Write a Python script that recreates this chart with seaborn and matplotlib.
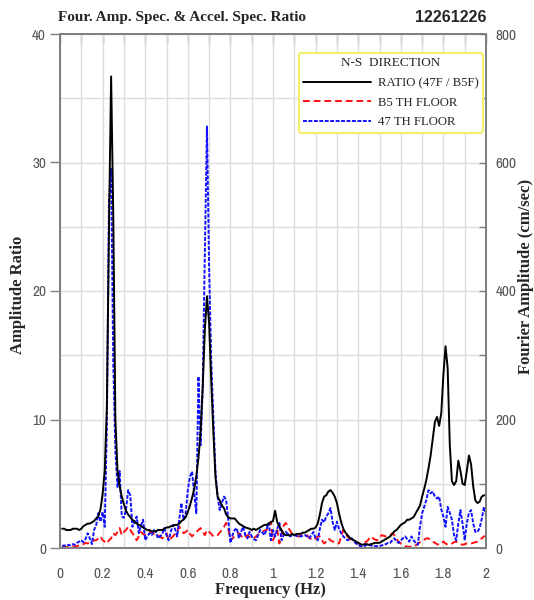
"""
Fourier amplitude spectra (B5F / 47F) and spectral ratio, N-S direction
"""

import numpy as np
import pandas as pd
import matplotlib
matplotlib.use('Agg')
import matplotlib.pyplot as plt
from matplotlib import font_manager
from matplotlib.ticker import MultipleLocator
import seaborn as sns

# frequency grid of the spectra (Hz)
freq = np.round(np.linspace(0.01, 2.00, 200), 2)

# spectral ratio 47F / B5F (left axis)
ratio_47f_b5f = [
    1.5, 1.5, 1.4, 1.4, 1.4, 1.5, 1.5, 1.5, 1.4, 1.5,
    1.7, 1.8, 1.9, 1.9, 2.0, 2.1, 2.3, 2.5, 3.0, 4.2,
    6.0, 11.0, 25.0, 36.7, 26.0, 10.0, 6.0, 4.8, 4.0, 3.4,
    2.9, 2.6, 2.4, 2.2, 2.05, 1.9, 1.8, 1.7, 1.6, 1.5,
    1.4, 1.4, 1.3, 1.3, 1.3, 1.4, 1.4, 1.4, 1.5, 1.6,
    1.6, 1.7, 1.7, 1.8, 1.8, 1.9, 2.1, 2.2, 2.4, 2.8,
    3.3, 3.9, 4.6, 5.6, 7.0, 9.0, 12.5, 17.0, 19.6, 17.5,
    13.0, 9.0, 5.5, 4.0, 3.7, 3.3, 3.1, 2.6, 2.4, 2.3,
    2.3, 2.3, 2.1, 1.9, 1.8, 1.7, 1.6, 1.55, 1.5, 1.4,
    1.5, 1.4, 1.5, 1.6, 1.7, 1.8, 1.8, 1.9, 2.0, 2.1,
    2.9, 2.0, 1.7, 1.4, 1.1, 1.0, 1.0, 1.0, 1.1, 1.0,
    1.1, 1.1, 1.1, 1.2, 1.2, 1.3, 1.4, 1.5, 1.5, 1.6,
    1.9, 2.6, 3.5, 4.0, 4.1, 4.4, 4.5, 4.3, 4.0, 3.5,
    2.7, 2.0, 1.5, 1.2, 1.0, 0.8, 0.7, 0.6, 0.5, 0.4,
    0.3, 0.25, 0.3, 0.3, 0.25, 0.3, 0.35, 0.4, 0.4, 0.4,
    0.5, 0.6, 0.7, 0.8, 0.9, 1.1, 1.3, 1.4, 1.6, 1.8,
    1.9, 2.0, 2.2, 2.2, 2.3, 2.4, 2.7, 3.0, 3.3, 4.0,
    4.6, 5.3, 6.2, 7.2, 8.5, 9.8, 10.2, 9.5, 10.5, 13.5,
    15.7, 14.0, 8.0, 5.2, 4.9, 5.2, 6.8, 6.0, 5.0, 4.9,
    6.0, 7.2, 6.5, 4.8, 3.7, 3.5, 3.6, 4.0, 4.1, 4.1,
]

# Fourier amplitude, B5 floor (cm/sec, right axis)
amp_b5f = [
    1, 2, 1, 2, 2, 3, 2, 3, 4, 5,
    6, 8, 7, 9, 10, 12, 12, 15, 18, 12,
    10, 7, 12, 15, 23, 20, 25, 31, 20, 25,
    28, 33, 28, 23, 18, 12, 18, 25, 22, 20,
    22, 25, 25, 22, 20, 20, 18, 15, 18, 23,
    12, 15, 18, 22, 25, 33, 28, 23, 25, 28,
    22, 18, 22, 25, 28, 31, 25, 20, 28, 25,
    22, 18, 19, 20, 24, 28, 33, 39, 30, 12,
    15, 18, 21, 23, 19, 15, 18, 20, 17, 15,
    15, 18, 21, 23, 25, 27, 28, 35, 41, 12,
    20, 28, 7, 20, 35, 39, 33, 27, 22, 20,
    19, 18, 19, 20, 20, 20, 16, 14, 12, 15,
    18, 18, 12, 7, 10, 15, 12, 10, 10, 8,
    7, 18, 28, 22, 18, 14, 12, 10, 8, 7,
    7, 8, 9, 10, 14, 18, 15, 13, 12, 16,
    20, 19, 18, 18, 20, 23, 20, 14, 9, 7,
    5, 3, 2, 2, 2, 2, 4, 7, 9, 12,
    13, 15, 15, 12, 10, 8, 6, 5, 7, 10,
    7, 5, 6, 7, 9, 10, 8, 6, 5, 6,
    7, 7, 7, 8, 9, 10, 12, 15, 18, 18,
]

# Fourier amplitude, 47th floor (cm/sec, right axis)
amp_47f = [
    3, 4, 3, 5, 4, 6, 5, 8, 10, 12,
    9, 14, 23, 15, 6, 28, 36, 54, 41, 56,
    33, 190, 540, 590, 290, 152, 95, 120, 49, 47,
    60, 90, 82, 33, 40, 49, 23, 35, 44, 12,
    18, 23, 20, 28, 25, 15, 18, 22, 31, 20,
    12, 25, 36, 30, 18, 45, 70, 44, 54, 90,
    111, 119, 85, 54, 267, 160, 250, 459, 656, 438,
    290, 204, 117, 80, 59, 70, 80, 75, 44, 8,
    20, 28, 31, 15, 25, 33, 20, 15, 25, 18,
    14, 12, 20, 28, 24, 20, 30, 39, 12, 28,
    18, 30, 39, 12, 20, 25, 22, 18, 20, 20,
    19, 18, 18, 19, 20, 18, 15, 20, 25, 15,
    12, 30, 44, 40, 49, 54, 62, 40, 28, 41,
    30, 23, 18, 15, 12, 14, 15, 10, 7, 5,
    3, 2, 3, 5, 5, 4, 3, 3, 3, 3,
    4, 5, 6, 8, 8, 12, 15, 10, 8, 12,
    15, 18, 14, 10, 18, 12, 8, 5, 33, 54,
    64, 75, 90, 85, 88, 80, 77, 80, 60, 49,
    33, 64, 55, 44, 20, 12, 38, 59, 38, 12,
    38, 55, 59, 38, 25, 25, 31, 45, 64, 51,
]

legend_title = 'N-S  DIRECTION'
labels = ['RATIO (47F / B5F)', 'B5 TH FLOOR', '47 TH FLOOR']

df = pd.DataFrame({'freq': freq, 'ratio': ratio_47f_b5f,
                   'b5f': amp_b5f, 'f47': amp_47f})

sns.set_style('white')
serif = ['Liberation Serif', 'DejaVu Serif']

# a narrow sans for the tick numbers if one is installed
narrow = None
for f in font_manager.fontManager.ttflist:
    if 'Narrow' in f.name or 'Condensed' in f.name:
        narrow = f.name
        break
tick_font = narrow or 'Liberation Sans'
tick_size = 11 if narrow else 9.5
plt.rcParams['font.family'] = [tick_font, 'DejaVu Sans']

GRAY = '#7f7f7f'
GRID = '#dcdcdc'

fig = plt.figure(figsize=(5.34, 6.0), dpi=100)
ax2 = fig.add_axes([60 / 534, 52 / 600, 426 / 534, 514 / 600])  # right axis, behind
ax = ax2.twinx()  # left-scale axis drawn on top

# Fourier amplitudes on the right axis
sns.lineplot(data=df, x='freq', y='b5f', ax=ax2, color='#ff1010', lw=1.4,
             linestyle=(0, (3.5, 2)), estimator=None, sort=False, label=labels[1])
sns.lineplot(data=df, x='freq', y='f47', ax=ax2, color='#1010ff', lw=1.4,
             linestyle=(0, (2, 0.8)), estimator=None, sort=False, label=labels[2])
# spectral ratio on the left axis
sns.lineplot(data=df, x='freq', y='ratio', ax=ax, color='black', lw=1.4,
             estimator=None, sort=False, label=labels[0])

# ax2 becomes the right-hand axis, ax the left-hand one
ax2.yaxis.tick_right()
ax2.yaxis.set_label_position('right')
ax.yaxis.tick_left()
ax.yaxis.set_label_position('left')

ax.set_xlim(0, 2)
ax.set_ylim(0, 40)
ax2.set_ylim(0, 800)

ax2.xaxis.set_major_locator(MultipleLocator(0.2))
ax2.xaxis.set_minor_locator(MultipleLocator(0.1))
ax2.xaxis.set_major_formatter(lambda v, p: f'{v:g}')
ax.yaxis.set_major_locator(MultipleLocator(10))
ax2.yaxis.set_major_locator(MultipleLocator(200))
ax2.yaxis.set_minor_locator(MultipleLocator(100))

ax2.grid(True, which='both', axis='both', color=GRID, lw=1)
ax2.set_axisbelow(True)

ax2.tick_params(axis='x', which='both', direction='out', length=6, width=1,
                color=GRAY, labelsize=tick_size, labelcolor='#555555', pad=8)
ax2.tick_params(axis='y', which='both', direction='in', length=5, width=1,
                color=GRAY, labelsize=tick_size, labelcolor='#555555', pad=7)
ax.tick_params(axis='y', which='major', direction='out', length=7, width=1,
               color=GRAY, labelsize=tick_size, labelcolor='#555555', pad=3)

top = ax2.secondary_xaxis('top')
top.xaxis.set_major_locator(MultipleLocator(0.1))
top.tick_params(direction='in', length=7, width=1, color=GRAY, labeltop=False)

for a in (ax, ax2, top):
    for s in a.spines.values():
        s.set_color(GRAY)
        s.set_linewidth(1.3)

ax.set_xlabel('')
ax.set_ylabel('')
ax2.set_xlabel('')
ax2.set_ylabel('')
ax.set_zorder(ax2.get_zorder() + 1)
ax.patch.set_visible(False)

# legend with all three series
h1, l1 = ax.get_legend_handles_labels()
h2, l2 = ax2.get_legend_handles_labels()
ax2.get_legend().remove()
leg = ax.legend(h1 + h2, l1 + l2, title=legend_title, loc='upper right',
                bbox_to_anchor=(0.993, 0.963), borderaxespad=0, frameon=True,
                fancybox=True, edgecolor='#f4ee6a', framealpha=1,
                handlelength=5.3, handletextpad=0.55, labelspacing=0.6,
                borderpad=0.35, prop={'family': serif, 'size': 9.2})
leg.get_title().set_fontfamily(serif)
leg.get_title().set_fontsize(9.5)
leg.get_frame().set_linewidth(1.5)

# titles and axis labels
fig.text(58 / 534, 1 - 17 / 600, 'Four. Amp. Spec. & Accel. Spec. Ratio',
         family=serif, weight='bold', size=11, ha='left', va='center')
fig.text(487 / 534, 1 - 17 / 600, '12261226', family=['Liberation Sans', 'DejaVu Sans'],
         weight='bold', size=11.5, ha='right', va='center')
fig.text(18 / 534, 1 - 295 / 600, 'Amplitude Ratio', family=serif, weight='bold',
         size=12, rotation=90, ha='center', va='center')
fig.text(526 / 534, 1 - 276 / 600, 'Fourier Amplitude (cm/sec)', family=serif,
         weight='bold', size=12, rotation=90, ha='center', va='center')
fig.text(270 / 534, 1 - 590 / 600, 'Frequency (Hz)', family=serif, weight='bold',
         size=12, ha='center', va='center')

fig.savefig('out.png', dpi=100, facecolor='white')
